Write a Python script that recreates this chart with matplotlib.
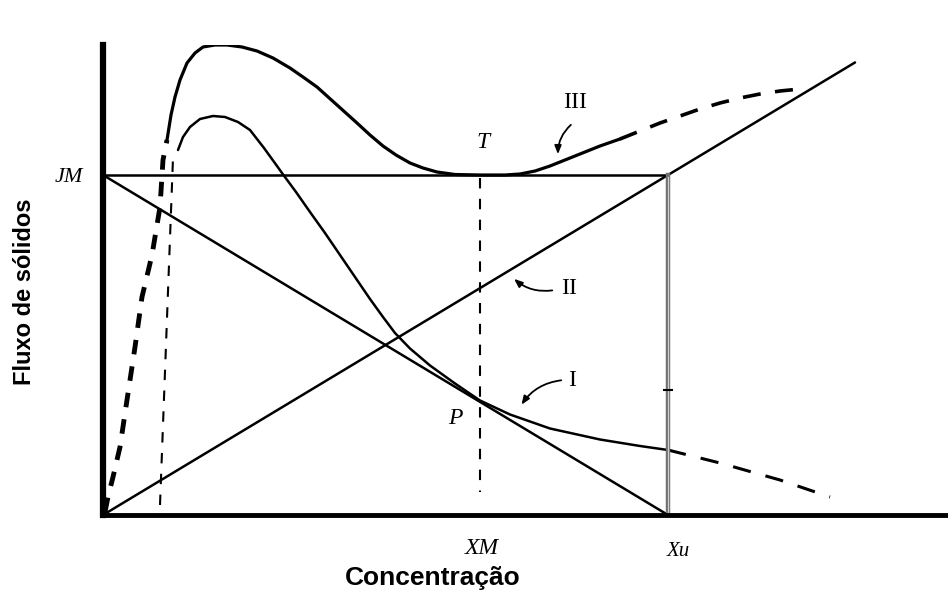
import numpy as np
import matplotlib.pyplot as plt

# flux curve I (low feed), solid part and the dashed parts either side
c1_x = [75, 80, 87, 97, 110, 122, 135, 147, 161, 174, 179, 193, 207, 222, 237, 252, 267, 280,
        292, 307, 327, 352, 377, 407, 447, 497, 537, 565]
c1_y = [365, 378, 388, 396, 399, 398, 393, 385, 367, 349, 342, 323, 303, 282, 260, 238, 216, 198,
        182, 166.5, 149.5, 131.5, 114.5, 100.5, 86.5, 75.5, 69, 65]
c1_lo_x = [57, 70]
c1_lo_y = [10, 357]
c1_hi_x = [565, 617, 677, 727]
c1_hi_y = [65, 52, 35, 18]

# flux curve III (critical loading)
c3_x = [64, 68, 72, 77, 84, 92, 100, 112, 124, 139, 154, 170, 187, 200, 214, 224, 234, 244, 254,
        267, 280, 293, 307, 320, 334, 352, 377, 402, 417, 432, 447, 462, 477, 497, 517]
c3_y = [375, 400, 418, 435, 452, 462, 468, 470, 470, 468, 464, 457, 447, 438, 428, 419, 410, 401, 392,
        380, 369, 360, 352, 347, 343, 340.5, 340, 340, 341, 344, 349, 355, 361, 369, 376]
c3_lo_x = [2, 5, 10, 17, 24, 32, 39, 49, 57, 60, 64]
c3_lo_y = [3, 18, 38, 68, 115, 168, 218, 260, 308, 355, 375]
c3_hi_x = [517, 537, 557, 577, 597, 617, 637, 657, 677, 697]
c3_hi_y = [376, 384, 392, 399, 406, 412, 417, 421, 424, 426]

JM = 340     # limiting flux
XM = 377     # concentration at the tangent point
Xu = 565     # underflow concentration
x_end = 752  # end of underflow line II

fig = plt.figure(figsize=(9.48, 5.93), dpi=100)
ax = fig.add_axes([103 / 948, 78 / 593, 845 / 948, 470 / 593])
ax.set_xlim(0, 845)
ax.set_ylim(0, 470)

k = dict(color='black', lw=1.8, solid_capstyle='round', solid_joinstyle='round')
ax.plot(c1_x, c1_y, **k)
ax.plot(c1_lo_x, c1_lo_y, color='black', lw=1.5, ls=(0, (5, 5)))
ax.plot(c1_hi_x, c1_hi_y, color='black', lw=2.2, ls=(0, (6, 5)))
ax.plot(c3_x, c3_y, color='black', lw=2.3, solid_joinstyle='round')
ax.plot(c3_lo_x, c3_lo_y, color='black', lw=3.5, ls=(0, (3, 2.5)))
ax.plot(c3_hi_x, c3_hi_y, color='black', lw=2.6, ls=(0, (5, 4)))

# operating lines
ax.plot([0, Xu], [JM, JM], **k)
ax.plot([0, Xu], [JM, 0], **k)
ax.plot([0, x_end], [0, JM / Xu * x_end], **k)

# guides
ax.plot([XM, XM], [JM - 3, 23], color='black', lw=1.5, ls=(0, (5, 5)))
ax.plot([Xu, Xu], [JM, 2], color='#707070', lw=3.2)
ax.plot([Xu, Xu], [JM - 2, 2], color='#d0d0d0', lw=0.9)
ax.plot([Xu - 4, Xu + 4], [125, 125], color='black', lw=1.5)

serif = 'Liberation Serif'
ax.text(380, 372, 'T', family=serif, style='italic', fontsize=17, ha='center', va='center')
ax.text(352, 97, 'P', family=serif, style='italic', fontsize=17, ha='center', va='center')
ax.text(472, 412, 'III', family=serif, fontsize=17, ha='center', va='center')
ax.text(466, 227, 'II', family=serif, fontsize=17, ha='center', va='center')
ax.text(469, 135, 'I', family=serif, fontsize=17, ha='center', va='center')
ax.text(-34, JM - 3, 'JM', family=serif, style='italic', fontsize=16, ha='center', va='center', clip_on=False)
ax.text(XM + 2, -33, 'XM', family=serif, style='italic', fontsize=17, ha='center', va='center', clip_on=False)
ax.text(Xu + 10, -37, 'Xu', family=serif, style='italic', fontsize=15, ha='center', va='center', clip_on=False)

arrow = dict(arrowstyle='-|>,head_length=0.5,head_width=0.2', color='black', lw=1.3)
ax.annotate('', xy=(455, 358), xytext=(470, 392),
            arrowprops=dict(connectionstyle='arc3,rad=0.25', **arrow))
ax.annotate('', xy=(409, 238), xytext=(452, 225),
            arrowprops=dict(connectionstyle='arc3,rad=-0.25', **arrow))
ax.annotate('', xy=(417, 108), xytext=(461, 135),
            arrowprops=dict(connectionstyle='arc3,rad=0.25', **arrow))

for side in ('top', 'right'):
    ax.spines[side].set_visible(False)
ax.spines['left'].set_linewidth(4.5)
ax.spines['bottom'].set_linewidth(3.5)
ax.set_xticks([])
ax.set_yticks([])

fig.text(433 / 948, 1 - 578 / 593, 'Concentração', family='Liberation Sans', weight='bold',
         fontsize=19, ha='center', va='center')
fig.text(25 / 948, 1 - 292 / 593, 'Fluxo de sólidos', family='Liberation Sans', weight='bold',
         fontsize=17, ha='center', va='center', rotation=90)

fig.savefig('out.png', dpi=100)
